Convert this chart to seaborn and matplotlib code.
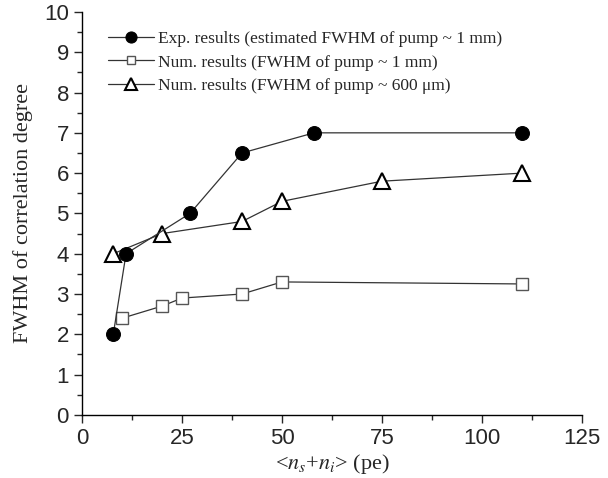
import matplotlib
matplotlib.use("Agg")
import matplotlib.pyplot as plt
import pandas as pd
import seaborn as sns
from matplotlib.ticker import MultipleLocator

# valeurs
exp_x = [7.8, 11, 27, 40, 58, 110]
exp_y = [2.0, 4.0, 5.0, 6.5, 7.0, 7.0]
num1_x = [10, 20, 25, 40, 50, 110]
num1_y = [2.4, 2.7, 2.9, 3.0, 3.3, 3.25]
num600_x = [7.8, 20, 40, 50, 75, 110]
num600_y = [4.0, 4.5, 4.8, 5.3, 5.8, 6.0]

labels = [
    "Exp. results (estimated FWHM of pump ~ 1 mm)",
    "Num. results (FWHM of pump ~ 1 mm)",
    "Num. results (FWHM of pump ~ 600 \u03bcm)",
]

sns.set_style("ticks")
plt.rcParams["mathtext.fontset"] = "stix"
SERIF = ["Liberation Serif", "DejaVu Serif"]
SANS = ["Liberation Sans", "DejaVu Sans"]

fig = plt.figure(figsize=(6.08, 4.78), dpi=100)
ax = fig.add_axes([0.135, 0.132, 0.822, 0.843])

df_exp = pd.DataFrame({"x": exp_x, "y": exp_y})
df_n1 = pd.DataFrame({"x": num1_x, "y": num1_y})
df_n6 = pd.DataFrame({"x": num600_x, "y": num600_y})

sns.lineplot(data=df_exp, x="x", y="y", ax=ax, color="#333333", lw=0.9,
             marker="o", markersize=10, markerfacecolor="black",
             markeredgecolor="black", label=labels[0], zorder=4)
sns.lineplot(data=df_n1, x="x", y="y", ax=ax, color="#333333", lw=0.9,
             marker="s", markersize=8, markerfacecolor="white",
             markeredgecolor="#555555", markeredgewidth=1.0,
             label=labels[1], zorder=2)
sns.lineplot(data=df_n6, x="x", y="y", ax=ax, color="#333333", lw=0.9,
             marker="^", markersize=11, markerfacecolor="white",
             markeredgecolor="black", markeredgewidth=1.5,
             label=labels[2], zorder=3)

ax.set_xlim(0, 125)
ax.set_ylim(0, 10)
ax.xaxis.set_major_locator(MultipleLocator(25))
ax.xaxis.set_minor_locator(MultipleLocator(12.5))
ax.yaxis.set_major_locator(MultipleLocator(1))
ax.yaxis.set_minor_locator(MultipleLocator(0.5))
ax.tick_params(which="major", direction="out", length=6, width=1, labelsize=16)
ax.tick_params(which="minor", direction="out", length=3.5, width=1)
for lab in ax.get_xticklabels() + ax.get_yticklabels():
    lab.set_family(SANS)

sns.despine(ax=ax)
for s in ("left", "bottom"):
    ax.spines[s].set_linewidth(1.0)
    ax.spines[s].set_color("black")

ax.set_xlabel(r"<$n_s$+$n_i$> (pe)", family=SERIF, fontsize=16, labelpad=2)
ax.set_ylabel("FWHM of correlation degree", family=SERIF, fontsize=16, labelpad=8)

leg = ax.legend(loc="upper left", bbox_to_anchor=(0.018, 0.995), frameon=False,
                prop={"family": SERIF, "size": 12.5}, handlelength=2.6,
                handletextpad=0.25, labelspacing=0.4, borderaxespad=0.6,
                markerscale=0.8)

fig.savefig("out.png", dpi=100)
